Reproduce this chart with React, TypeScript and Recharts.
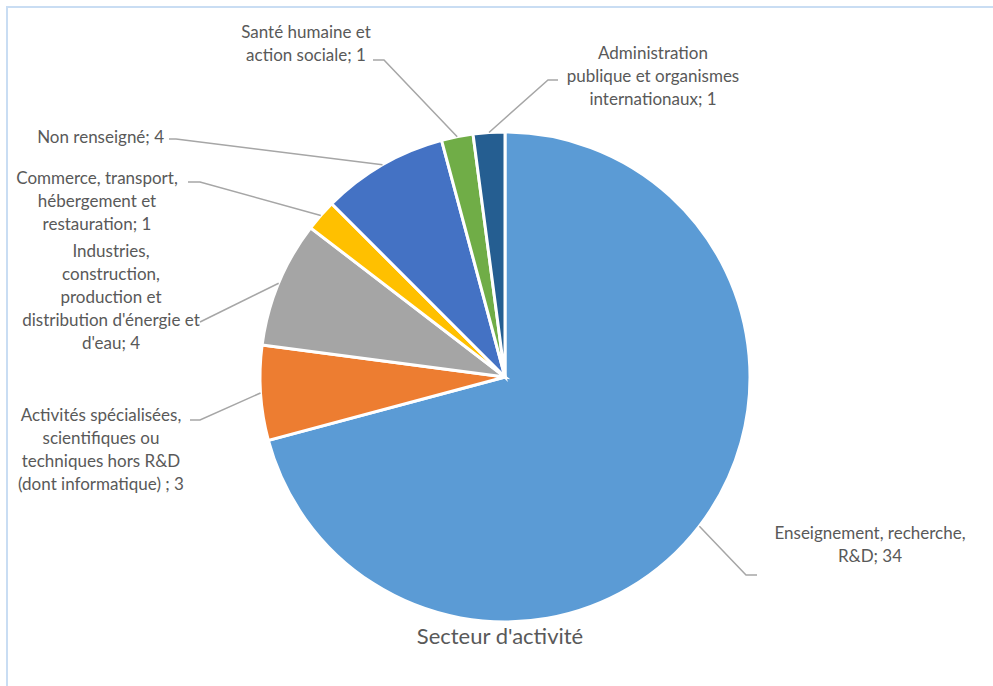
import React from "react";
import { PieChart, Pie, Cell } from "recharts";

const categories = [
  "Enseignement, recherche, R&D",
  "Activités spécialisées, scientifiques ou techniques hors R&D (dont informatique)",
  "Industries, construction, production et distribution d'énergie et d'eau",
  "Commerce, transport, hébergement et restauration",
  "Non renseigné",
  "Santé humaine et action sociale",
  "Administration publique et organismes internationaux",
];
const values = [34, 3, 4, 1, 4, 1, 1];
const labelLines = [
  ["Enseignement, recherche,", "R&D; 34"],
  ["Activités spécialisées,", "scientifiques ou", "techniques hors R&D", "(dont informatique) ; 3"],
  ["Industries,", "construction,", "production et", "distribution d'énergie et", "d'eau; 4"],
  ["Commerce, transport,", "hébergement et", "restauration; 1"],
  ["Non renseigné; 4"],
  ["Santé humaine et", "action sociale; 1"],
  ["Administration", "publique et organismes", "internationaux; 1"],
];
const colors = ["#5B9BD5", "#ED7D31", "#A5A5A5", "#FFC000", "#4472C4", "#70AD47", "#255E91"];
const title = "Secteur d'activité";

// label layout: text anchor point (first line baseline), anchor, elbow points of leader line
const labelLayout = [
  { x: 870, y: 539, anchor: "middle", elbow: [[757, 575], [746, 575]] },
  { x: 101, y: 421, anchor: "middle", elbow: [[190, 420], [200, 420]] },
  { x: 111, y: 257, anchor: "middle", elbow: [[200, 322], [200, 322]] },
  { x: 97, y: 184, anchor: "middle", elbow: [[188, 182], [200, 182]] },
  { x: 164, y: 143, anchor: "end", elbow: [[169, 139], [176, 139]] },
  { x: 306, y: 38, anchor: "middle", elbow: [[373, 60], [384, 60]] },
  { x: 653, y: 59, anchor: "middle", elbow: [[558, 80], [548, 80]] },
];

const data = categories.map((name, i) => ({ name, value: values[i] }));

const RAD = Math.PI / 180;
const FONT = "Lato, 'Open Sans', sans-serif";
const LINE_H = 23;

const renderLabel = (props: any) => {
  const { cx, cy, midAngle, outerRadius, index } = props;
  const lay = labelLayout[index];
  const ex = cx + outerRadius * Math.cos(-midAngle * RAD);
  const ey = cy + outerRadius * Math.sin(-midAngle * RAD);
  const pts = [...lay.elbow, [ex, ey]].map((p) => p.join(",")).join(" ");
  return (
    <g key={`lbl-${index}`}>
      <polyline points={pts} fill="none" stroke="#A6A6A6" strokeWidth={1.5} />
      <text
        x={lay.x}
        y={lay.y}
        textAnchor={lay.anchor as any}
        fill="#595959"
        fontSize={17}
        fontFamily={FONT}
      >
        {labelLines[index].map((ln, j) => (
          <tspan key={j} x={lay.x} dy={j === 0 ? 0 : LINE_H}>
            {ln}
          </tspan>
        ))}
      </text>
    </g>
  );
};

export default function App() {
  return (
    <div
      style={{
        position: "absolute",
        left: 0,
        top: 0,
        width: 993,
        height: 686,
        overflow: "hidden",
        background: "#ffffff",
      }}
    >
      <PieChart width={993} height={686} margin={{ top: 0, right: 0, bottom: 0, left: 0 }}>
        <rect x={7} y={7} width={1000} height={700} fill="none" stroke="#C9DDF3" strokeWidth={2} />
        <Pie
          data={data}
          dataKey="value"
          nameKey="name"
          cx={505}
          cy={377}
          outerRadius={245}
          startAngle={90}
          endAngle={-270}
          stroke="#ffffff"
          strokeWidth={3}
          label={renderLabel}
          labelLine={false}
          isAnimationActive={false}
        >
          {data.map((d, i) => (
            <Cell key={d.name} fill={colors[i]} />
          ))}
        </Pie>
        <text
          x={500}
          y={644}
          textAnchor="middle"
          fill="#595959"
          fontSize={22}
          fontFamily={FONT}
        >
          {title}
        </text>
      </PieChart>
    </div>
  );
}
